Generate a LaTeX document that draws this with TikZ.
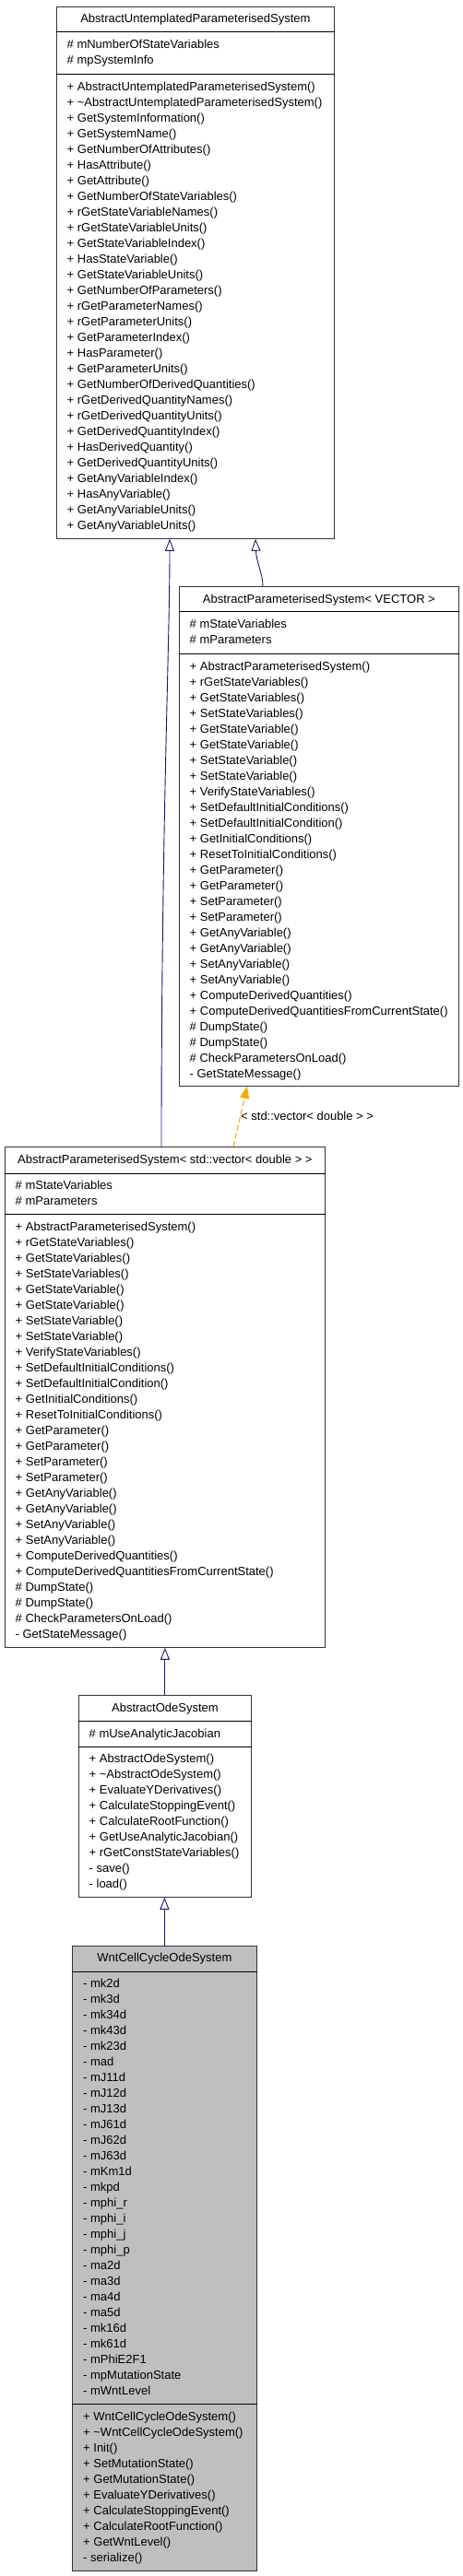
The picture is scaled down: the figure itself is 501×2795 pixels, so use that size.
\documentclass[tikz,border=0pt]{standalone}
\usepackage{fontspec}
\setmainfont{Liberation Sans}
\usetikzlibrary{arrows.meta,calc}
\definecolor{edgeblue}{HTML}{191970}
\definecolor{edgeorange}{HTML}{FFA500}
\definecolor{classgrey}{HTML}{BFBFBF}
\newcommand{\members}[1]{\begin{tabular}[t]{@{}l@{}}#1\end{tabular}}
\newcommand{\paramops}{%
 + AbstractParameterisedSystem()\\
 + rGetStateVariables()\\
 + GetStateVariables()\\
 + SetStateVariables()\\
 + GetStateVariable()\\
 + GetStateVariable()\\
 + SetStateVariable()\\
 + SetStateVariable()\\
 + VerifyStateVariables()\\
 + SetDefaultInitialConditions()\\
 + SetDefaultInitialCondition()\\
 + GetInitialConditions()\\
 + ResetToInitialConditions()\\
 + GetParameter()\\
 + GetParameter()\\
 + SetParameter()\\
 + SetParameter()\\
 + GetAnyVariable()\\
 + GetAnyVariable()\\
 + SetAnyVariable()\\
 + SetAnyVariable()\\
 + ComputeDerivedQuantities()\\
 + ComputeDerivedQuantitiesFromCurrentState()\\
 \# DumpState()\\
 \# DumpState()\\
 \# CheckParametersOnLoad()\\
 - GetStateMessage()}
\tikzset{
  classbox/.style={draw=black!80,line width=0.8pt,fill=white,inner sep=0pt,anchor=north west},
  sepline/.style={draw=black,line width=0.8pt},
  titletext/.style={inner sep=0pt,anchor=base,font=\fontsize{13pt}{17pt}\selectfont},
  membertext/.style={inner sep=0pt,anchor=base west,font=\fontsize{13pt}{17pt}\selectfont},
  inherit/.style={draw=edgeblue,line width=0.9pt,-{Triangle[open,length=13pt,width=10pt,fill=white]}},
  tmpl/.style={draw=edgeorange,line width=1pt,dash pattern=on 6pt off 3pt,-{Triangle[length=13pt,width=10pt]}}
}
\begin{document}
\begin{tikzpicture}[x=1pt,y=-1pt]
   \path[fill=white,use as bounding box] (0,0) rectangle (501,2795);
   %untemplated base
   \node[classbox,minimum width=301pt,minimum height=577pt] (base) at (61,7) {};
   \draw[sepline] ([yshift=-27pt]base.north west) -- ([yshift=-27pt]base.north east);
   \draw[sepline] ([yshift=-73pt]base.north west) -- ([yshift=-73pt]base.north east);
   \node[titletext] (basetitle) at ([yshift=-17.5pt]base.north) {AbstractUntemplatedParameterisedSystem};
   \node[membertext] (baseattr) at ([xshift=11.5pt,yshift=-45.5pt]base.north west) {\members{%
     \# mNumberOfStateVariables\\
     \# mpSystemInfo}};
   \node[membertext] (baseops) at ([xshift=11.5pt,yshift=-91.5pt]base.north west) {\members{%
     + AbstractUntemplatedParameterisedSystem()\\
     + \textasciitilde AbstractUntemplatedParameterisedSystem()\\
     + GetSystemInformation()\\
     + GetSystemName()\\
     + GetNumberOfAttributes()\\
     + HasAttribute()\\
     + GetAttribute()\\
     + GetNumberOfStateVariables()\\
     + rGetStateVariableNames()\\
     + rGetStateVariableUnits()\\
     + GetStateVariableIndex()\\
     + HasStateVariable()\\
     + GetStateVariableUnits()\\
     + GetNumberOfParameters()\\
     + rGetParameterNames()\\
     + rGetParameterUnits()\\
     + GetParameterIndex()\\
     + HasParameter()\\
     + GetParameterUnits()\\
     + GetNumberOfDerivedQuantities()\\
     + rGetDerivedQuantityNames()\\
     + rGetDerivedQuantityUnits()\\
     + GetDerivedQuantityIndex()\\
     + HasDerivedQuantity()\\
     + GetDerivedQuantityUnits()\\
     + GetAnyVariableIndex()\\
     + HasAnyVariable()\\
     + GetAnyVariableUnits()\\
     + GetAnyVariableUnits()}};
   %template VECTOR
   \node[classbox,minimum width=303pt,minimum height=542pt] (vector) at (194,636) {};
   \draw[sepline] ([yshift=-27pt]vector.north west) -- ([yshift=-27pt]vector.north east);
   \draw[sepline] ([yshift=-73pt]vector.north west) -- ([yshift=-73pt]vector.north east);
   \node[titletext] (vectortitle) at ([yshift=-18pt]vector.north) {AbstractParameterisedSystem< VECTOR >};
   \node[membertext] (vectorattr) at ([xshift=11.5pt,yshift=-45.5pt]vector.north west) {\members{%
     \# mStateVariables\\
     \# mParameters}};
   \node[membertext] (vectorops) at ([xshift=11.5pt,yshift=-91.5pt]vector.north west) {\members{\paramops}};
   %std::vector instance
   \node[classbox,minimum width=347pt,minimum height=543pt] (stdvec) at (5,1244) {};
   \draw[sepline] ([yshift=-29pt]stdvec.north west) -- ([yshift=-29pt]stdvec.north east);
   \draw[sepline] ([yshift=-73pt]stdvec.north west) -- ([yshift=-73pt]stdvec.north east);
   \node[titletext] (stdvectitle) at ([yshift=-18.5pt]stdvec.north) {AbstractParameterisedSystem< std::vector< double > >};
   \node[membertext] (stdvecattr) at ([xshift=11.5pt,yshift=-46.5pt]stdvec.north west) {\members{%
     \# mStateVariables\\
     \# mParameters}};
   \node[membertext] (stdvecops) at ([xshift=11.5pt,yshift=-91.5pt]stdvec.north west) {\members{\paramops}};
   %ode system
   \node[classbox,minimum width=187pt,minimum height=219pt] (ode) at (85,1839) {};
   \draw[sepline] ([yshift=-28pt]ode.north west) -- ([yshift=-28pt]ode.north east);
   \draw[sepline] ([yshift=-56pt]ode.north west) -- ([yshift=-56pt]ode.north east);
   \node[titletext] (odetitle) at ([yshift=-18.5pt]ode.north) {AbstractOdeSystem};
   \node[membertext] (odeattr) at ([xshift=11.5pt,yshift=-46.5pt]ode.north west) {\members{%
     \# mUseAnalyticJacobian}};
   \node[membertext] (odeops) at ([xshift=11.5pt,yshift=-73.5pt]ode.north west) {\members{%
     + AbstractOdeSystem()\\
     + \textasciitilde AbstractOdeSystem()\\
     + EvaluateYDerivatives()\\
     + CalculateStoppingEvent()\\
     + CalculateRootFunction()\\
     + GetUseAnalyticJacobian()\\
     + rGetConstStateVariables()\\
     - save()\\
     - load()}};
   %wnt
   \node[classbox,fill=classgrey,minimum width=200pt,minimum height=678pt] (wnt) at (78,2111) {};
   \draw[sepline] ([yshift=-28pt]wnt.north west) -- ([yshift=-28pt]wnt.north east);
   \draw[sepline] ([yshift=-497pt]wnt.north west) -- ([yshift=-497pt]wnt.north east);
   \node[titletext] (wnttitle) at ([yshift=-17.5pt]wnt.north) {WntCellCycleOdeSystem};
   \node[membertext] (wntattr) at ([xshift=12pt,yshift=-45.5pt]wnt.north west) {\members{%
     - mk2d\\ - mk3d\\ - mk34d\\ - mk43d\\ - mk23d\\ - mad\\
     - mJ11d\\ - mJ12d\\ - mJ13d\\ - mJ61d\\ - mJ62d\\ - mJ63d\\
     - mKm1d\\ - mkpd\\ - mphi\_r\\ - mphi\_i\\ - mphi\_j\\ - mphi\_p\\
     - ma2d\\ - ma3d\\ - ma4d\\ - ma5d\\ - mk16d\\ - mk61d\\
     - mPhiE2F1\\ - mpMutationState\\ - mWntLevel}};
   \node[membertext] (wntops) at ([xshift=12pt,yshift=-515.5pt]wnt.north west) {\members{%
     + WntCellCycleOdeSystem()\\
     + \textasciitilde WntCellCycleOdeSystem()\\
     + Init()\\
     + SetMutationState()\\
     + GetMutationState()\\
     + EvaluateYDerivatives()\\
     + CalculateStoppingEvent()\\
     + CalculateRootFunction()\\
     + GetWntLevel()\\
     - serialize()}};
   %inheritance
   \draw[inherit] ([xshift=170pt]stdvec.north west) .. controls ([xshift=170pt,yshift=344pt]stdvec.north west) and ([xshift=123pt,yshift=-116pt]base.south west) .. ([xshift=123pt]base.south west);
   \draw[inherit] ([xshift=91pt]vector.north west) .. controls ([xshift=91pt,yshift=14pt]vector.north west) and ([xshift=217pt,yshift=-26pt]base.south west) .. ([xshift=216pt]base.south west);
   \draw[inherit] (ode.north) -- (ode.north |- stdvec.south);
   \draw[inherit] (wnt.north) -- (wnt.north |- ode.south);
   %template argument
   \draw[tmpl] ([xshift=248pt]stdvec.north west) -- ([xshift=74pt]vector.south west);
   \node[membertext] (tmplarg) at (261,1215) {< std::vector< double > >};
\end{tikzpicture}
\end{document}
